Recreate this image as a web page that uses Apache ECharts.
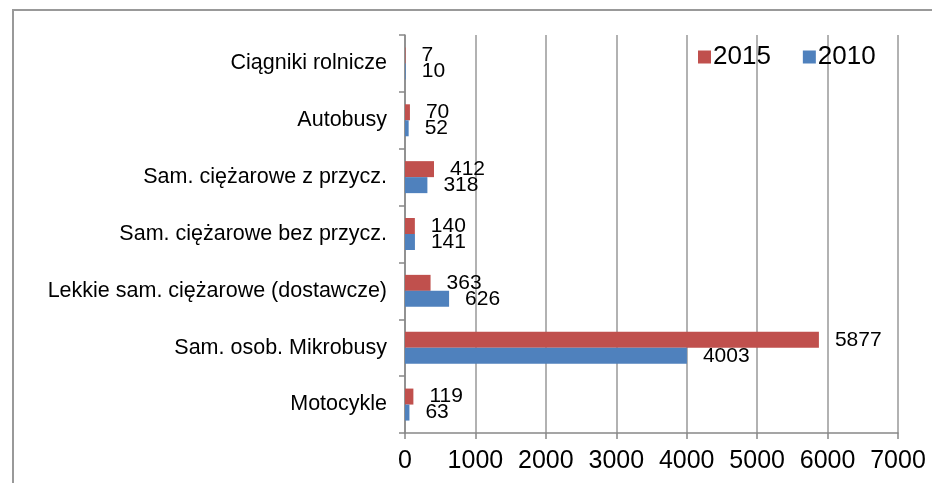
<!DOCTYPE html>
<html>
<head>
<meta charset="utf-8">
<script src="https://cdn.jsdelivr.net/npm/echarts@6/dist/echarts.min.js"></script>
<style>
html, body { margin: 0; padding: 0; background: #fff; }
#main { width: 932px; height: 483px; }
</style>
</head>
<body>
<div id="main"></div>
<script>
// kategorie od dolu do gory
var categories = ['Motocykle', 'Sam. osob. Mikrobusy', 'Lekkie sam. ciężarowe (dostawcze)',
    'Sam. ciężarowe bez przycz.', 'Sam. ciężarowe z przycz.', 'Autobusy', 'Ciągniki rolnicze'];
var values2015 = [119, 5877, 363, 140, 412, 70, 7];
var values2010 = [63, 4003, 626, 141, 318, 52, 10];
var xTicks = [0, 1000, 2000, 3000, 4000, 5000, 6000, 7000];

var myChart = echarts.init(document.getElementById('main'));

var labelStyle = {
    show: true,
    position: 'right',
    distance: 16,
    color: '#000',
    fontFamily: 'Liberation Sans',
    fontSize: 21
};

var option = {
    animation: false,
    textStyle: { fontFamily: 'Liberation Sans' },
    grid: { left: 405, right: 34, top: 35, bottom: 50 },
    legend: {
        data: ['2015', '2010'],
        left: 693,
        top: 39,
        itemWidth: 13,
        itemHeight: 13,
        itemGap: 32,
        icon: 'rect',
        textStyle: { fontSize: 26, color: '#000', fontFamily: 'Liberation Sans', padding: [0, 0, 0, -3] }
    },
    xAxis: {
        type: 'value',
        min: xTicks[0],
        max: xTicks[xTicks.length - 1],
        interval: 1000,
        axisLine: { show: true, lineStyle: { color: '#888', width: 1.5 } },
        axisTick: { show: true, length: 6, lineStyle: { color: '#888', width: 1.5 } },
        axisLabel: {
            color: '#000', fontSize: 25, margin: 16,
            formatter: function (v) { return String(v); }
        },
        splitLine: { show: true, lineStyle: { color: '#999', width: 1.5 } }
    },
    yAxis: {
        type: 'category',
        data: categories,
        axisLine: { show: true, lineStyle: { color: '#888', width: 1.5 } },
        axisTick: { show: true, length: 6, lineStyle: { color: '#888', width: 1.5 } },
        axisLabel: { color: '#000', fontSize: 21.5, margin: 18 },
        splitLine: { show: false }
    },
    series: [
        {
            name: '2015',
            type: 'bar',
            data: values2015,
            barWidth: 16,
            barGap: '0%',
            itemStyle: { color: '#C0504D' },
            label: labelStyle
        },
        {
            name: '2010',
            type: 'bar',
            data: values2010,
            barWidth: 16,
            barGap: '0%',
            itemStyle: { color: '#4F81BD' },
            label: labelStyle
        }
    ],
    graphic: [
        {
            type: 'polyline',
            shape: { points: [[13, 483], [13, 10], [932, 10]] },
            style: { stroke: '#999', lineWidth: 2, fill: null }
        }
    ]
};

myChart.setOption(option);
</script>
</body>
</html>
